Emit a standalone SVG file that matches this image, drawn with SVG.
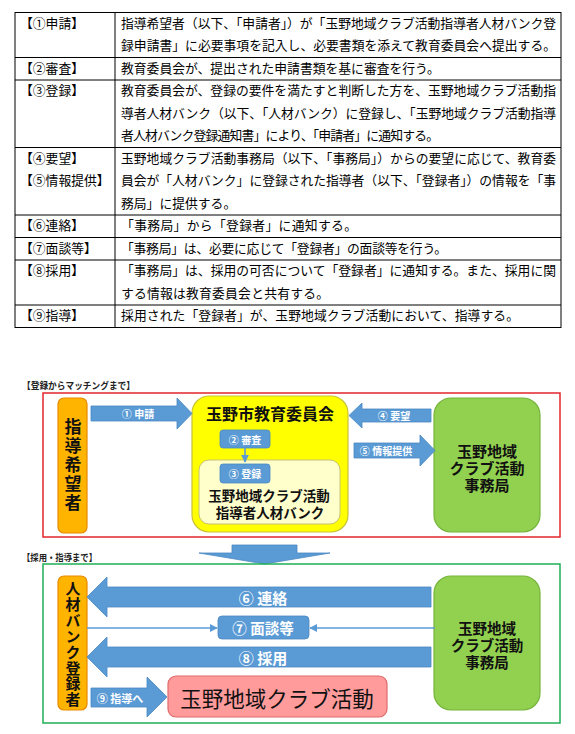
<svg xmlns="http://www.w3.org/2000/svg" width="575" height="734" viewBox="0 0 575 734">
<style>
.tb{font-family:"Noto Sans CJK JP","Noto Sans CJK SC",sans-serif;font-size:12.8px;fill:#000}
.ln{stroke:#000;stroke-width:1;fill:none}
.sec{font-family:"Noto Sans CJK JP",sans-serif;font-size:9.5px;font-weight:bold;fill:#222}
.arrow{fill:#5B9BD5;stroke:#4A88C2;stroke-width:0.8}
.wl{font-family:"Noto Sans CJK JP",sans-serif;font-weight:bold;fill:#fff;text-anchor:middle;dominant-baseline:central}
.bk{font-family:"Noto Sans CJK JP",sans-serif;font-weight:bold;fill:#111;text-anchor:middle;dominant-baseline:central}
.vt{font-family:"Noto Sans CJK JP",sans-serif;font-weight:bold;fill:#111;text-anchor:middle;writing-mode:vertical-rl}
.org{fill:#FFB400;stroke:#E88A00;stroke-width:1.2}
.grn{fill:#92D050;stroke:#74B43A;stroke-width:1.2}
.thin{stroke:#5B9BD5;stroke-width:1.6;fill:none}
</style>
<defs>
<marker id="ah" viewBox="0 0 10 10" refX="9" refY="5" markerWidth="5" markerHeight="5" orient="auto"><path d="M0,0 L10,5 L0,10 z" fill="#5B9BD5"/></marker>
</defs>
<rect width="575" height="734" fill="#fff"/>

<g id="table">
<rect class="ln" x="15" y="12.5" width="546" height="315"/>
<line class="ln" x1="115" y1="12.5" x2="115" y2="327.5"/>
<line class="ln" x1="15" y1="57.5" x2="561" y2="57.5"/>
<line class="ln" x1="15" y1="80" x2="561" y2="80"/>
<line class="ln" x1="15" y1="147.5" x2="561" y2="147.5"/>
<line class="ln" x1="15" y1="215" x2="561" y2="215"/>
<line class="ln" x1="15" y1="237.5" x2="561" y2="237.5"/>
<line class="ln" x1="15" y1="260" x2="561" y2="260"/>
<line class="ln" x1="15" y1="305" x2="561" y2="305"/>
<g class="tb">
<text x="20" y="27.5">【①申請】</text>
<text x="121" y="27.5" textLength="435" lengthAdjust="spacing">指導希望者（以下、「申請者」）が「玉野地域クラブ活動指導者人材バンク登</text>
<text x="121" y="50" textLength="435" lengthAdjust="spacing">録申請書」に必要事項を記入し、必要書類を添えて教育委員会へ提出する。</text>
<text x="20" y="73">【②審査】</text>
<text x="121" y="73">教育委員会が、提出された申請書類を基に審査を行う。</text>
<text x="20" y="95">【③登録】</text>
<text x="121" y="95" textLength="435" lengthAdjust="spacing">教育委員会が、登録の要件を満たすと判断した方を、玉野地域クラブ活動指</text>
<text x="121" y="117.5" textLength="435" lengthAdjust="spacing">導者人材バンク（以下、「人材バンク）に登録し、「玉野地域クラブ活動指導</text>
<text x="121" y="140" textLength="318" lengthAdjust="spacing">者人材バンク登録通知書」により、「申請者」に通知する。</text>
<text x="20" y="162.5">【④要望】</text>
<text x="20" y="185">【⑤情報提供】</text>
<text x="121" y="162.5" textLength="435" lengthAdjust="spacing">玉野地域クラブ活動事務局（以下、「事務局」）からの要望に応じて、教育委</text>
<text x="121" y="185" textLength="435" lengthAdjust="spacing">員会が「人材バンク」に登録された指導者（以下、「登録者」）の情報を「事</text>
<text x="121" y="207.5">務局」に提供する。</text>
<text x="20" y="230">【⑥連絡】</text>
<text x="121" y="230" textLength="236" lengthAdjust="spacing">「事務局」から「登録者」に通知する。</text>
<text x="20" y="252.5">【⑦面談等】</text>
<text x="121" y="252.5" textLength="326" lengthAdjust="spacing">「事務局」は、必要に応じて「登録者」の面談等を行う。</text>
<text x="20" y="275">【⑧採用】</text>
<text x="121" y="275" textLength="435" lengthAdjust="spacing">「事務局」は、採用の可否について「登録者」に通知する。また、採用に関</text>
<text x="121" y="297.5" textLength="208" lengthAdjust="spacing">する情報は教育委員会と共有する。</text>
<text x="20" y="320">【⑨指導】</text>
<text x="121" y="320" textLength="398" lengthAdjust="spacing">採用された「登録者」が、玉野地域クラブ活動において、指導する。</text>
</g>
</g>

<!-- Section 1 -->
<text class="sec" x="22" y="389" textLength="113" lengthAdjust="spacingAndGlyphs">【登録からマッチングまで】</text>
<rect id="frame1" x="43" y="393" width="517" height="144" fill="none" stroke="#E3262B" stroke-width="1.5"/>

<g id="applicant">
<rect class="org" x="58" y="398" width="29" height="135" rx="6"/>
<text class="vt" x="73" y="466" font-size="17" letter-spacing="2">指導希望者</text>
</g>

<g id="board">
<rect x="192" y="396" width="156" height="136" rx="17" fill="#FFFF00" stroke="#C9C23A" stroke-width="1.2"/>
<text class="bk" x="270" y="413" font-size="16">玉野市教育委員会</text>
</g>
<g id="bank">
<rect x="199" y="460" width="141" height="64" rx="10" fill="#FFFFCC" stroke="#C8C07A" stroke-width="1"/>
<text class="bk" font-size="13.5"><tspan x="269" y="495">玉野地域クラブ活動</tspan><tspan x="270" y="512">指導者人材バンク</tspan></text>
</g>
<g id="office1">
<rect class="grn" x="434" y="398" width="106" height="134" rx="17"/>
<text class="bk" font-size="15"><tspan x="487" y="450">玉野地域</tspan><tspan x="487" y="467">クラブ活動</tspan><tspan x="487" y="484">事務局</tspan></text>
</g>

<g id="connectors1">
<polygon class="arrow" points="91,406 177,406 177,398 192,413.5 177,429 177,421 91,421"/>
<text class="wl" x="138" y="413.5" font-size="10">① 申請</text>
<rect class="arrow" x="220" y="430" width="50" height="18" rx="3"/>
<text class="wl" x="245" y="439" font-size="10">② 審査</text>
<line class="thin" x1="245" y1="448" x2="245" y2="462" marker-end="url(#ah)"/>
<rect class="arrow" x="220" y="464" width="50" height="19" rx="3"/>
<text class="wl" x="245" y="473.5" font-size="10">③ 登録</text>
<polygon class="arrow" points="349,415.5 362,403 362,409 431,409 431,422 362,422 362,428"/>
<text class="wl" x="394" y="415.5" font-size="10">④ 要望</text>
<polygon class="arrow" points="354,443 420,443 420,435 435,450.5 420,466 420,458 354,458"/>
<text class="wl" x="386" y="450.5" font-size="10">⑤ 情報提供</text>
</g>

<polygon id="down" class="arrow" points="232,545 297,545 297,553 330,553 264.5,564 199,553 232,553"/>

<!-- Section 2 -->
<text class="sec" x="22" y="561" textLength="75" lengthAdjust="spacingAndGlyphs">【採用・指導まで】</text>
<rect id="frame2" x="43" y="564" width="517" height="159" fill="none" stroke="#1FAF55" stroke-width="1.5"/>

<g id="registrant">
<rect class="org" x="58" y="576" width="29" height="134" rx="6"/>
<text class="vt" x="73" y="644.5" font-size="15" letter-spacing="0.9">人材バンク登録者</text>
</g>
<g id="office2">
<rect class="grn" x="434" y="576" width="106" height="134" rx="17"/>
<text class="bk" font-size="14.5"><tspan x="487" y="627">玉野地域</tspan><tspan x="487" y="644">クラブ活動</tspan><tspan x="487" y="661">事務局</tspan></text>
</g>
<g id="club">
<rect x="168" y="676" width="219" height="41" rx="8" fill="#FF9B9B" stroke="#E06A6A" stroke-width="1.2"/>
<text x="277" y="697" font-family="Noto Sans CJK JP, sans-serif" font-size="21.5" fill="#111" text-anchor="middle" dominant-baseline="central">玉野地域クラブ活動</text>
</g>

<g id="connectors2">
<polygon class="arrow" points="87,597 107,577 107,587 431,587 431,607 107,607 107,617"/>
<text class="wl" x="263" y="597" font-size="15">⑥ 連絡</text>
<rect class="arrow" x="218" y="616" width="91" height="23" rx="4"/>
<text class="wl" x="263" y="627.5" font-size="14.5">⑦ 面談等</text>
<line class="thin" x1="87" y1="628" x2="217" y2="628" marker-end="url(#ah)"/>
<line class="thin" x1="435" y1="628" x2="310" y2="628" marker-end="url(#ah)"/>
<polygon class="arrow" points="87,657 107,637 107,647 431,647 431,667 107,667 107,677"/>
<text class="wl" x="263" y="657" font-size="15">⑧ 採用</text>
<polygon class="arrow" points="91,688 147,688 147,677 167,697 147,717 147,707 91,707"/>
<text class="wl" x="120" y="697.5" font-size="11">⑨ 指導へ</text>
</g>
</svg>
